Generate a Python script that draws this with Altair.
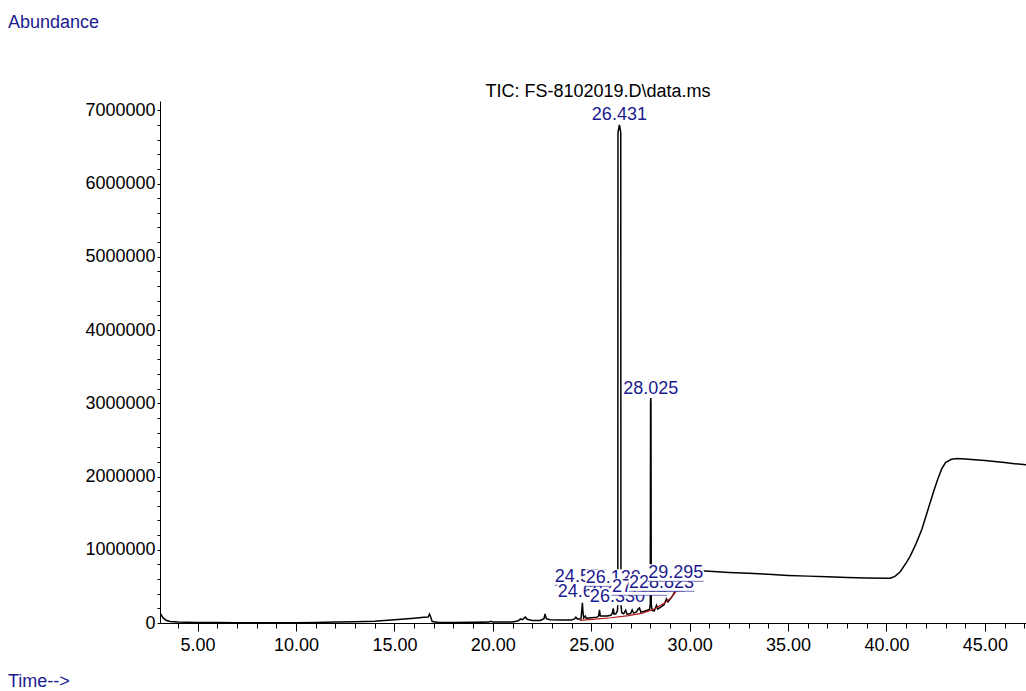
import altair as alt
import pandas as pd

# Total ion chromatogram: retention time (min) and abundance
times = [
    3.09, 3.15, 3.25, 3.4, 3.6, 4.0, 5.0, 6.0, 7.0, 8.0, 9.0, 10.0, 11.0, 12.0,
    13.0, 14.0, 15.0, 15.5, 16.0, 16.5, 16.72, 16.78, 16.84, 16.92, 17.2, 18.0,
    19.0, 19.8, 19.9, 20.0, 20.5, 21.0, 21.3, 21.4, 21.5, 21.65, 21.75, 22.0,
    22.4, 22.6, 22.65, 22.72, 22.9, 23.5, 24.0, 24.15, 24.22, 24.3, 24.48, 24.53,
    24.551, 24.58, 24.62, 24.697, 24.75, 25.0, 25.3, 25.38, 25.42, 25.46, 25.8,
    26.0, 26.08, 26.12, 26.16, 26.25, 26.33, 26.35, 26.36, 26.431, 26.50, 26.51,
    26.55, 26.65, 26.75, 26.82, 27.0, 27.08, 27.15, 27.3, 27.38, 27.452, 27.52,
    27.7, 27.85, 27.96, 28.0, 28.015, 28.025, 28.035, 28.05, 28.1, 28.2, 28.318,
    28.38, 28.55, 28.7, 28.823, 28.9, 29.05, 29.15, 29.295, 29.35, 29.45, 29.6,
    29.8, 30.0, 30.5, 31.0, 32.0, 33.0, 34.0, 35.0, 36.0, 37.0, 38.0, 39.0, 40.0,
    40.2, 40.45, 40.7, 41.0, 41.2, 41.5, 41.8, 42.1, 42.4, 42.6, 42.8, 43.0, 43.3,
    43.6, 44.0, 44.5, 45.0, 45.5, 46.0, 46.5, 47.1,
]
abundance = [
    145000, 110000, 70000, 38000, 20000, 12000, 8000, 6000, 5000, 4000, 4000,
    5000, 8000, 13000, 17000, 25000, 45000, 55000, 65000, 78000, 82000, 120000,
    85000, 20000, 10000, 8000, 9000, 12000, 22000, 12000, 12000, 15000, 30000,
    55000, 45000, 80000, 50000, 35000, 35000, 60000, 125000, 60000, 45000, 40000,
    42000, 55000, 80000, 55000, 55000, 200000, 275000, 150000, 70000, 95000,
    65000, 72000, 80000, 100000, 180000, 95000, 95000, 105000, 140000, 200000,
    120000, 125000, 165000, 250000, 6700000, 6800000, 6700000, 250000, 140000,
    125000, 175000, 120000, 130000, 180000, 135000, 150000, 190000, 205000,
    150000, 160000, 175000, 185000, 250000, 3000000, 3070000, 3000000, 250000,
    170000, 165000, 240000, 190000, 220000, 250000, 330000, 290000, 340000,
    380000, 450000, 500000, 600000, 680000, 712000, 720000, 712000, 705000,
    690000, 678000, 665000, 650000, 640000, 632000, 622000, 615000, 610000,
    612000, 640000, 700000, 820000, 910000, 1080000, 1280000, 1540000, 1800000,
    1960000, 2100000, 2190000, 2235000, 2245000, 2240000, 2230000, 2220000,
    2205000, 2190000, 2175000, 2160000,
]

# Integration baseline under the 24.4 - 29.3 min cluster
baseline_times = [24.42, 25.2, 26.0, 26.9, 27.6, 28.2, 28.7, 29.05, 29.33]
baseline_abundance = [35000, 52000, 72000, 100000, 135000, 190000, 270000, 340000, 440000]

# Peak labels: retention time and the abundance at which the label text sits
label_times = [24.551, 24.697, 26.120, 26.330, 27.452, 28.318, 28.823, 29.295, 26.431, 28.025]
label_levels = [556000, 351000, 542000, 282000, 419000, 474000, 474000, 610000, 6864000, 3133000]

W, H = 866, 522
X_DOM = [3.09, 47.09]
Y_DOM = [0, 7127000]
PX_PER_MIN = W / (X_DOM[1] - X_DOM[0])
PX_PER_UNIT = H / (Y_DOM[1] - Y_DOM[0])

FONT = "Liberation Sans"
FS = 18
NAVY = "#1b1b8e"
DARK_RED = "#b01818"

x_scale = alt.Scale(domain=X_DOM, nice=False, zero=False)
y_scale = alt.Scale(domain=Y_DOM, nice=False, zero=False)

x_axis = alt.Axis(
    values=list(range(4, 48)),
    labelExpr="datum.value % 5 === 0 ? format(datum.value, '.2f') : ''",
    tickSize={"condition": {"test": "datum.value % 5 === 0", "value": 8}, "value": 5},
    labelFont=FONT, labelFontSize=FS, labelColor="black",
    tickColor="black", domainColor="black", domainWidth=1, tickWidth=1,
    grid=False, title=None, labelPadding=5, labelOverlap=False, labelFlush=False,
    labelBound=False,
)
y_axis = alt.Axis(
    values=list(range(0, 7000001, 200000)),
    labelExpr="datum.value % 1000000 === 0 ? format(datum.value, 'd') : ''",
    tickSize=3, labelPadding=2,
    labelFont=FONT, labelFontSize=FS, labelColor="black",
    tickColor="black", domainColor="black", domainWidth=1, tickWidth=1,
    grid=False, title=None, labelOverlap=False, labelFlush=False, labelBound=False,
)

X = lambda f: alt.X(f, scale=x_scale, axis=x_axis)
Y = lambda f: alt.Y(f, scale=y_scale, axis=y_axis)

tic = pd.DataFrame({"t": times, "a": abundance})
trace = alt.Chart(tic).mark_line(color="black", strokeWidth=1.5, clip=True).encode(
    x=X("t:Q"), y=Y("a:Q"),
)

base_df = pd.DataFrame({"t": baseline_times, "a": baseline_abundance})
baseline = alt.Chart(base_df).mark_line(color=DARK_RED, strokeWidth=1.2, clip=True).encode(
    x=X("t:Q"), y=Y("a:Q")
)

# Each label gets a white box then its text, so later labels cover earlier ones;
# upper-row cluster labels also carry a thin underline along the box bottom
half_w = 28 / PX_PER_MIN
ascent = 14 / PX_PER_UNIT
descent = 3 / PX_PER_UNIT
label_layers = []
for t, lvl in zip(label_times, label_levels):
    d = pd.DataFrame({
        "t": [t], "lvl": [lvl], "txt": [f"{t:.3f}"],
        "x0": [t - half_w], "x1": [t + half_w],
        "y0": [lvl - descent], "y1": [lvl + ascent],
    })
    box = alt.Chart(d).mark_rect(color="white", clip=True).encode(
        x=X("x0:Q"), x2="x1:Q", y=Y("y0:Q"), y2="y1:Q",
    )
    txt = alt.Chart(d).mark_text(
        font=FONT, fontSize=FS, color=NAVY, align="center", baseline="alphabetic"
    ).encode(x=X("t:Q"), y=Y("lvl:Q"), text="txt:N")
    label_layers += [box, txt]
    if 400000 <= lvl < 1000000:
        under = alt.Chart(d).mark_rule(color=NAVY, strokeWidth=0.8, opacity=0.75).encode(
            x=X("x0:Q"), x2="x1:Q", y=Y("y0:Q"),
        )
        label_layers.append(under)

# Page texts around the plot
def page_text(s, x, y, color, align):
    return alt.Chart(pd.DataFrame({"s": [s]})).mark_text(
        font=FONT, fontSize=FS, color=color, align=align, baseline="alphabetic"
    ).encode(x=alt.value(x), y=alt.value(y), text="s:N")

title = page_text("TIC: FS-8102019.D\\data.ms", 438, -4, "black", "center")
ylab = page_text("Abundance", -152, -73, NAVY, "left")
xlab = page_text("Time-->", -152, 586, NAVY, "left")

chart = alt.layer(trace, baseline, *label_layers, title, ylab, xlab).properties(
    width=W, height=H,
    padding={"left": 160, "top": 101, "right": 0, "bottom": 68},
    autosize="none", background="white",
).configure_view(stroke=None).configure_axis(labelOverlap=False)

chart.save("out.html", embed_options={"renderer": "svg", "actions": False})
